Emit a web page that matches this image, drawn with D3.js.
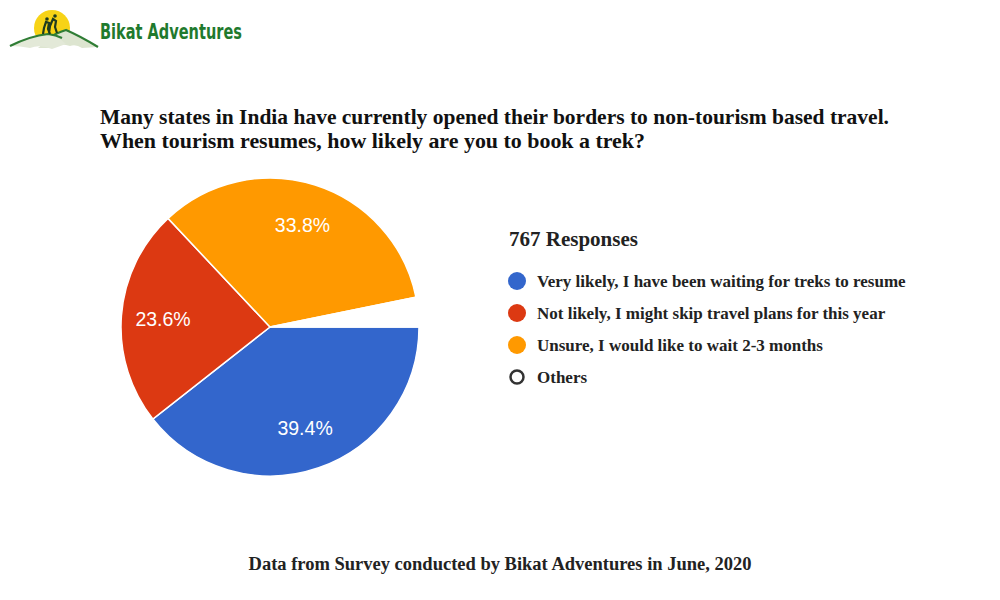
<html>
<head>
<meta charset="UTF-8">
<title>Trek booking survey</title>
<script src="https://cdn.jsdelivr.net/npm/d3@7"></script>
<style>
  body { margin: 0; background: #fff; }
</style>
</head>
<body>
<svg id="chart" width="1000" height="600"></svg>
<script>
// survey data
var categories = ["Very likely, I have been waiting for treks to resume",
                  "Not likely, I might skip travel plans for this year",
                  "Unsure, I would like to wait 2-3 months",
                  "Others"];
var shares = [39.4, 23.6, 33.8, 3.2];
var colors = ["#3366cc", "#dc3912", "#ff9900", "#ffffff"];
var responses = 767;

var svg = d3.select("#chart");

// --- logo ---
var logo = svg.append("g");
logo.append("clipPath").attr("id", "sunclip").append("rect")
  .attr("x", 0).attr("y", 0).attr("width", 120).attr("height", 38);
logo.append("circle").attr("cx", 52).attr("cy", 28).attr("r", 18).attr("fill", "#f7d316")
  .attr("clip-path", "url(#sunclip)");
// back hill (right)
logo.append("path").attr("d", "M38,48 Q55,34 66,30 Q80,36 98,47 L82,48 Q76,44 70,46 Q60,42 50,48 Z")
  .attr("fill", "#dde5d0");
logo.append("path").attr("d", "M45,40 Q56,33 66,30 Q80,36 98,47")
  .attr("fill", "none").attr("stroke", "#2f7d35").attr("stroke-width", 2.2);
// front hill (left)
logo.append("path").attr("d", "M10,46 Q30,36 48,34 Q58,36 66,44 L52,49 Q40,44 30,48 Q20,46 10,46 Z")
  .attr("fill", "#e3e9d8");
logo.append("path").attr("d", "M10,46 Q30,36 48,34 Q56,35 62,38")
  .attr("fill", "none").attr("stroke", "#2f7d35").attr("stroke-width", 2.2);
// hikers
logo.append("path").attr("d", "M43,34 l1,-6 l2,-6 l3,1 l-1,6 l2,5 M49,33 l1,-7 l3,-7 l3,2 l-1,6 l2,6")
  .attr("fill", "none").attr("stroke", "#1f3b1f").attr("stroke-width", 2.2);
logo.append("circle").attr("cx", 47).attr("cy", 19).attr("r", 1.8).attr("fill", "#1f3b1f");
logo.append("circle").attr("cx", 55).attr("cy", 16).attr("r", 1.8).attr("fill", "#1f3b1f");
logo.append("text").attr("x", 100).attr("y", 39)
  .attr("font-family", "DejaVu Sans Condensed, DejaVu Sans, sans-serif")
  .attr("font-weight", "bold").attr("font-size", 22).attr("fill", "#1f7a2e")
  .attr("textLength", 142).attr("lengthAdjust", "spacingAndGlyphs")
  .text("Bikat Adventures");

// --- title ---
var titleLines = ["Many states in India have currently opened their borders to non-tourism based travel.",
                  "When tourism resumes, how likely are you to book a trek?"];
var titleWidths = [789, 545];
svg.selectAll("text.title").data(titleLines).enter().append("text")
  .attr("class", "title")
  .attr("x", 100).attr("y", function(d, i) { return 124 + i * 24; })
  .attr("font-family", "Liberation Serif, serif").attr("font-weight", "bold")
  .attr("font-size", 21).attr("fill", "#111")
  .attr("textLength", function(d, i) { return titleWidths[i]; })
  .attr("lengthAdjust", "spacingAndGlyphs")
  .text(function(d) { return d; });

// --- pie ---
var cx = 270, cy = 327, radius = 149;
var pie = d3.pie().sort(null)
  .startAngle(Math.PI / 2).endAngle(Math.PI / 2 + 2 * Math.PI)
  .value(function(d) { return d; });
var arc = d3.arc().innerRadius(0).outerRadius(radius);
var labelArc = d3.arc().innerRadius(radius * 0.72).outerRadius(radius * 0.72);

var g = svg.append("g").attr("transform", "translate(" + cx + "," + cy + ")");
var arcs = pie(shares);
g.selectAll("path.slice").data(arcs).enter().append("path")
  .attr("class", "slice")
  .attr("d", arc)
  .attr("fill", function(d, i) { return colors[i]; })
  .attr("stroke", "#fff").attr("stroke-width", 1.5);

g.selectAll("text.pct").data(arcs.filter(function(d) { return d.data > 5; })).enter().append("text")
  .attr("class", "pct")
  .attr("transform", function(d) { return "translate(" + labelArc.centroid(d) + ")"; })
  .attr("text-anchor", "middle").attr("dy", "0.35em")
  .attr("font-family", "Liberation Sans, Arial, sans-serif").attr("font-size", 19.5)
  .attr("fill", "#fff")
  .text(function(d) { return d.data.toFixed(1) + "%"; });

// --- legend ---
svg.append("text").attr("x", 509).attr("y", 246)
  .attr("font-family", "Liberation Serif, serif").attr("font-weight", "bold")
  .attr("font-size", 21).attr("fill", "#222")
  .text(responses + " Responses");

var leg = svg.selectAll("g.leg").data(categories).enter().append("g")
  .attr("class", "leg")
  .attr("transform", function(d, i) { return "translate(517," + (281 + i * 32) + ")"; });
leg.append("circle").attr("r", function(d, i) { return i === 3 ? 6.5 : 9; })
  .attr("fill", function(d, i) { return i === 3 ? "#fff" : colors[i]; })
  .attr("stroke", function(d, i) { return i === 3 ? "#333" : "none"; })
  .attr("stroke-width", 2.5);
leg.append("text").attr("x", 20).attr("dy", "0.35em")
  .attr("font-family", "Liberation Serif, serif").attr("font-weight", "bold")
  .attr("font-size", 17).attr("fill", "#222")
  .text(function(d) { return d; });

// --- footer ---
svg.append("text").attr("x", 500).attr("y", 570).attr("text-anchor", "middle")
  .attr("font-family", "Liberation Serif, serif").attr("font-weight", "bold")
  .attr("font-size", 18.5).attr("fill", "#222")
  .text("Data from Survey conducted by Bikat Adventures in June, 2020");
</script>
</body>
</html>
